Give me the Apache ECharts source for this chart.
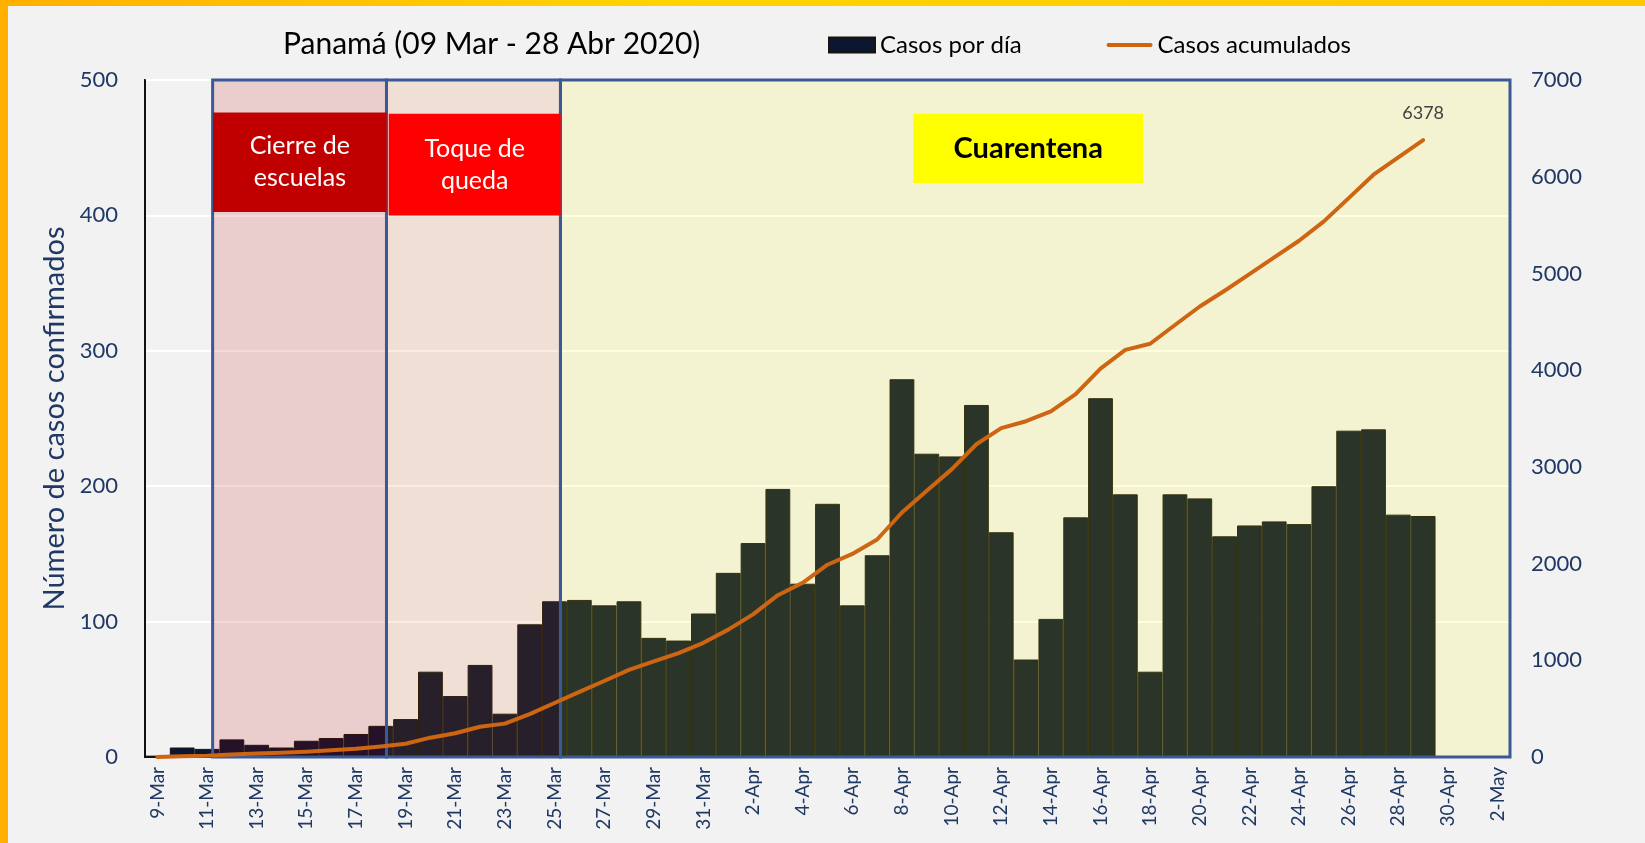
<!DOCTYPE html>
<html>
<head>
<meta charset="utf-8">
<script src="https://cdn.jsdelivr.net/npm/echarts@6/dist/echarts.min.js"></script>
<style>
  html, body { margin: 0; padding: 0; width: 100%; height: 100%; overflow: hidden; }
  body { background: linear-gradient(90deg, #ffb000 0%, #ffd400 40%, #ffc800 100%); }
  #chart { position: absolute; left: 8px; top: 6px; right: 0; bottom: 0; background: #f2f2f2; }
</style>
</head>
<body>
<div id="chart"></div>
<script>
// fechas del eje x
const dias = [
  '9-Mar', '10-Mar', '11-Mar', '12-Mar', '13-Mar', '14-Mar', '15-Mar', '16-Mar', '17-Mar', '18-Mar',
  '19-Mar', '20-Mar', '21-Mar', '22-Mar', '23-Mar', '24-Mar', '25-Mar', '26-Mar', '27-Mar', '28-Mar',
  '29-Mar', '30-Mar', '31-Mar', '1-Apr', '2-Apr', '3-Apr', '4-Apr', '5-Apr', '6-Apr', '7-Apr',
  '8-Apr', '9-Apr', '10-Apr', '11-Apr', '12-Apr', '13-Apr', '14-Apr', '15-Apr', '16-Apr', '17-Apr',
  '18-Apr', '19-Apr', '20-Apr', '21-Apr', '22-Apr', '23-Apr', '24-Apr', '25-Apr', '26-Apr', '27-Apr',
  '28-Apr', '29-Apr', '30-Apr', '1-May', '2-May'
];

// casos nuevos por dia
const casosDia = [
  1, 7, 6, 13, 9, 7, 12, 14, 17, 23,
  28, 63, 45, 68, 32, 98, 115, 116, 112, 115,
  88, 86, 106, 136, 158, 198, 128, 187, 112, 149,
  279, 224, 222, 260, 166, 72, 102, 177, 265, 194,
  63, 194, 191, 163, 171, 174, 172, 200, 241, 242,
  179, 178
];

// casos acumulados
const casosAcum = [
  1, 8, 14, 27, 36, 43, 55, 69, 86, 109,
  137, 200, 245, 313, 345, 443, 558, 674, 786, 901,
  989, 1075, 1181, 1317, 1475, 1673, 1801, 1988, 2100, 2249,
  2528, 2752, 2974, 3234, 3400, 3472, 3574, 3751, 4016, 4210,
  4273, 4467, 4658, 4821, 4992, 5166, 5338, 5538, 5779, 6021,
  6200, 6378
];

const ticksIzq = [0, 100, 200, 300, 400, 500];
const ticksDer = [0, 1000, 2000, 3000, 4000, 5000, 6000, 7000];

const azul = '#1f3864';
const borde = '#3a5996';
const naranja = '#cd6512';
const fuente = 'Lato';

const chart = echarts.init(document.getElementById('chart'));
window.onresize = function () {
  chart.resize();
};

chart.setOption({
  animation: false,
  textStyle: { fontFamily: fuente },
  title: {
    text: 'Panamá (09 Mar - 28 Abr 2020)',
    left: 270,
    top: 18,
    textStyle: { fontSize: 30, fontWeight: 'normal', color: '#000', fontFamily: fuente }
  },
  legend: {
    data: [
      { name: 'Casos por día', icon: 'rect' },
      { name: 'Casos acumulados', icon: 'path://M2,0 L46,0 A2,2 0 0 1 46,4 L2,4 A2,2 0 0 1 2,0 Z' }
    ],
    left: 815,
    top: 22,
    itemWidth: 46,
    itemHeight: 15,
    itemGap: 85,
    textStyle: { fontSize: 24, color: '#000', fontFamily: fuente }
  },
  grid: {
    left: 137, right: 135, top: 74, bottom: 86,
    show: true, backgroundColor: 'transparent', borderColor: '#2a3e6e', borderWidth: 2
  },
  xAxis: [
    {
      type: 'category',
      data: dias,
      axisLine: { lineStyle: { color: '#111', width: 2 } },
      axisTick: { show: false },
      axisLabel: { interval: 1, rotate: 90, fontSize: 19, color: azul, margin: 10, fontFamily: fuente }
    },
    { type: 'value', min: -0.5, max: 54.5, show: false }
  ],
  yAxis: [
    {
      type: 'value',
      min: ticksIzq[0],
      max: ticksIzq[ticksIzq.length - 1],
      interval: 100,
      name: 'Número de casos confirmados',
      nameLocation: 'middle',
      nameGap: 76,
      nameTextStyle: { fontSize: 29, color: azul, fontFamily: fuente },
      axisLine: { show: true, onZero: false, lineStyle: { color: '#111', width: 2 } },
      axisTick: { show: false },
      axisLabel: { fontSize: 22, color: azul, margin: 27, fontFamily: fuente },
      splitLine: { lineStyle: { color: '#ffffff', width: 2 } }
    },
    {
      type: 'value',
      min: ticksDer[0],
      max: ticksDer[ticksDer.length - 1],
      interval: 1000,
      axisLine: { show: false },
      axisTick: { show: false },
      axisLabel: {
        fontSize: 22, color: azul, margin: 21, fontFamily: fuente,
        formatter: function (v) { return String(v); }
      },
      splitLine: { show: false }
    }
  ],
  series: [
    {
      name: 'Casos por día',
      type: 'bar',
      data: casosDia,
      z: 2,
      barCategoryGap: 0,
      itemStyle: { color: '#0c1630', borderColor: '#16140a', borderWidth: 1 }
    },
    {
      name: 'fases',
      type: 'line',
      xAxisIndex: 1,
      yAxisIndex: 0,
      data: [],
      silent: true,
      z: 3,
      markArea: {
        silent: true,
        z: 3,
        label: { show: false },
        data: [
          [
            { xAxis: 2.225, yAxis: 0, itemStyle: { color: 'rgba(190,0,0,0.15)', borderColor: borde, borderWidth: 3 } },
            { xAxis: 9.23, yAxis: 500 }
          ],
          [
            { xAxis: 9.23, yAxis: 0, itemStyle: { color: 'rgba(227,104,12,0.13)', borderColor: borde, borderWidth: 3 } },
            { xAxis: 16.24, yAxis: 500 }
          ],
          [
            { xAxis: 16.24, yAxis: 0, itemStyle: { color: 'rgba(255,255,0,0.13)', borderColor: borde, borderWidth: 3 } },
            { xAxis: 54.5, yAxis: 500 }
          ]
        ]
      }
    },
    {
      name: 'Casos acumulados',
      type: 'line',
      yAxisIndex: 1,
      data: casosAcum,
      z: 5,
      symbol: 'none',
      lineStyle: { color: naranja, width: 4, cap: 'round', join: 'round' },
      itemStyle: { color: naranja },
      markPoint: {
        symbol: 'circle',
        symbolSize: 1,
        itemStyle: { color: 'rgba(0,0,0,0)' },
        label: { show: true, position: 'top', distance: 17, color: '#404040', fontSize: 18, fontFamily: fuente, formatter: '{c}' },
        data: [{ type: 'max' }]
      }
    },
    {
      name: 'cuadros',
      type: 'line',
      xAxisIndex: 1,
      yAxisIndex: 0,
      data: [],
      silent: true,
      z: 6,
      markArea: {
        silent: true,
        z: 6,
        data: [
          [
            {
              name: 'Cierre de\nescuelas', xAxis: 2.24, yAxis: 476,
              itemStyle: { color: '#c00000' },
              label: { show: true, position: 'inside', color: '#fff', fontSize: 25, lineHeight: 32, fontFamily: fuente }
            },
            { xAxis: 9.24, yAxis: 402.5 }
          ],
          [
            {
              name: 'Toque de\nqueda', xAxis: 9.32, yAxis: 475,
              itemStyle: { color: '#ff0000' },
              label: { show: true, position: 'inside', color: '#fff', fontSize: 25, lineHeight: 32, fontFamily: fuente }
            },
            { xAxis: 16.25, yAxis: 400 }
          ],
          [
            {
              name: 'Cuarentena', xAxis: 30.46, yAxis: 475,
              itemStyle: { color: '#ffff00' },
              label: { show: true, position: 'inside', color: '#000', fontSize: 29, fontWeight: 'bold', fontFamily: fuente }
            },
            { xAxis: 39.72, yAxis: 424 }
          ]
        ]
      }
    }
  ]
});
</script>
</body>
</html>
